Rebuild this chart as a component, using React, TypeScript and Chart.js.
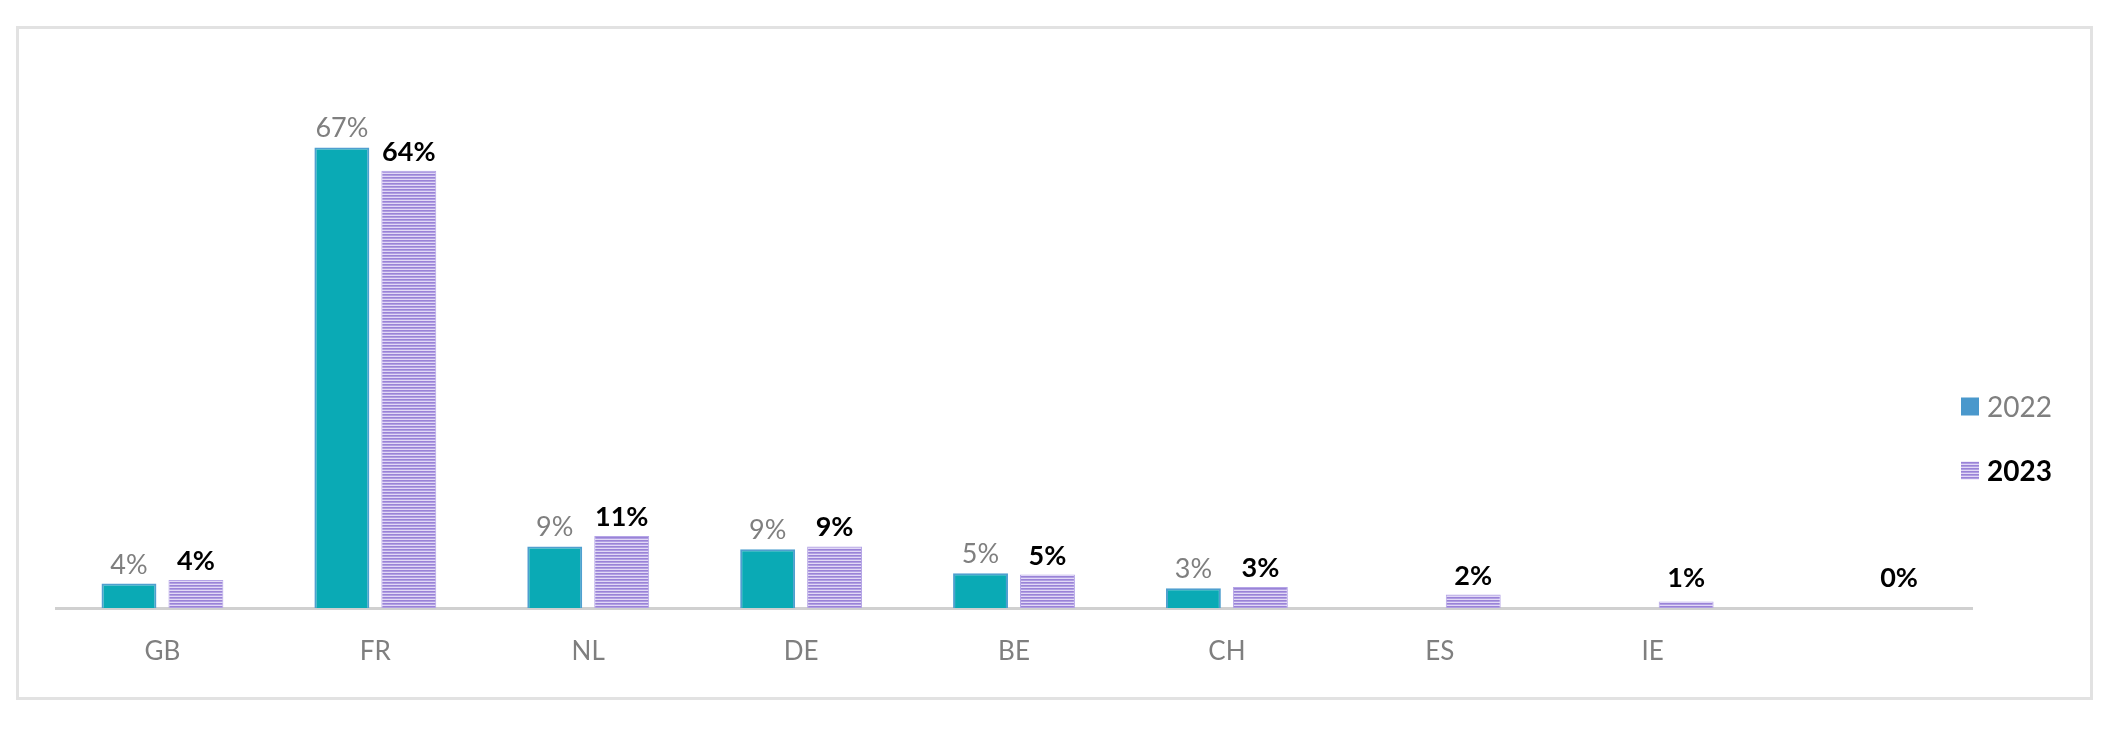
import React, { useEffect, useRef } from 'react';
import { Chart, registerables } from 'chart.js';

Chart.register(...registerables);

// ---- data ----
const categories = ['GB', 'FR', 'NL', 'DE', 'BE', 'CH', 'ES', 'IE', ''];
const seriesNames = ['2022', '2023'];
const values2022: (number | null)[] = [3.6, 67, 9.0, 8.6, 5.1, 2.9, null, null, null];
const values2023: (number | null)[] = [4.1, 63.6, 10.5, 9.0, 4.9, 3.1, 2.0, 1.0, 0];
const yMin = 0;
const yMax = 80;

const FONT = 'Lato, "Open Sans", "Noto Sans", sans-serif';

export default function App() {
  const ref = useRef<HTMLCanvasElement>(null);

  useEffect(() => {
    const canvas = ref.current!;
    const pc = document.createElement('canvas');
    pc.width = 4;
    pc.height = 3;
    const p = pc.getContext('2d')!;
    p.fillStyle = '#9a83d7';
    p.fillRect(0, 0, 4, 1);
    p.fillStyle = '#b09fe2';
    p.fillRect(0, 1, 4, 1);
    p.fillStyle = '#e2d9f6';
    p.fillRect(0, 2, 4, 1);
    const pattern = canvas.getContext('2d')!.createPattern(pc, 'repeat')!;

    const labelStyles = [
      { color: '#7f7f7f', weight: 'normal', swatch: '#4a98cc' as any },
      { color: '#000000', weight: 'bold', swatch: pattern as any },
    ];

    const valueLabels = {
      id: 'valueLabels',
      afterDatasetsDraw(chart: any) {
        const ctx = chart.ctx;
        const base = chart.scales.y.getPixelForValue(0);
        chart.data.datasets.forEach((ds: any, di: number) => {
          const meta = chart.getDatasetMeta(di);
          const st = labelStyles[di];
          meta.data.forEach((el: any, i: number) => {
            const v = ds.data[i];
            if (v === null || v === undefined) return;
            ctx.save();
            ctx.font = `${st.weight} 27px ${FONT}`;
            ctx.fillStyle = st.color;
            ctx.textAlign = 'center';
            ctx.textBaseline = 'alphabetic';
            ctx.fillText(`${Math.round(v)}%`, el.x, Math.min(el.y - 10, base - 21));
            ctx.restore();
          });
        });
      },
    };

    const sideLegend = {
      id: 'sideLegend',
      afterDraw(chart: any) {
        const ctx = chart.ctx;
        chart.data.datasets.forEach((ds: any, di: number) => {
          const st = labelStyles[di];
          const cy = 406.5 + di * 64;
          ctx.save();
          ctx.fillStyle = st.swatch;
          ctx.fillRect(1961, cy - 9, 18, 18);
          ctx.font = `${st.weight} 28px ${FONT}`;
          ctx.fillStyle = st.color;
          ctx.textAlign = 'left';
          ctx.textBaseline = 'middle';
          ctx.fillText(ds.label, 1987, cy + 1);
          ctx.restore();
        });
      },
    };

    const chart = new Chart(canvas, {
      type: 'bar',
      data: {
        labels: categories,
        datasets: [
          {
            label: seriesNames[0],
            data: values2022,
            backgroundColor: '#0aaab5',
            borderColor: '#4f9fcf',
            borderWidth: 2,
            categoryPercentage: 0.629,
            barPercentage: 0.82,
          },
          {
            label: seriesNames[1],
            data: values2023,
            backgroundColor: pattern,
            borderColor: '#b4a4e6',
            borderWidth: 1,
            categoryPercentage: 0.629,
            barPercentage: 0.82,
          },
        ],
      },
      options: {
        animation: false,
        responsive: false,
        devicePixelRatio: 1,
        layout: { padding: { left: 56, right: 138, top: 58, bottom: 34.5 } },
        plugins: {
          legend: { display: false },
          tooltip: { enabled: false },
        },
        scales: {
          x: {
            grid: { display: false, drawTicks: false },
            border: { display: true, color: '#d0d0d0', width: 3 },
            ticks: {
              color: '#7f7f7f',
              font: { family: FONT, size: 26 },
              padding: 28,
            },
          },
          y: {
            display: false,
            min: yMin,
            max: yMax,
          },
        },
      },
      plugins: [valueLabels, sideLegend],
    });

    return () => chart.destroy();
  }, []);

  return (
    <div style={{ position: 'absolute', left: 0, top: 0, width: 2110, height: 730, background: '#ffffff' }}>
      <div
        style={{
          position: 'absolute',
          left: 16,
          top: 26,
          width: 2071,
          height: 668,
          border: '3px solid #e2e2e2',
        }}
      />
      <canvas
        ref={ref}
        width={2110}
        height={730}
        style={{ position: 'absolute', left: 0, top: 0, width: 2110, height: 730 }}
      />
    </div>
  );
}
